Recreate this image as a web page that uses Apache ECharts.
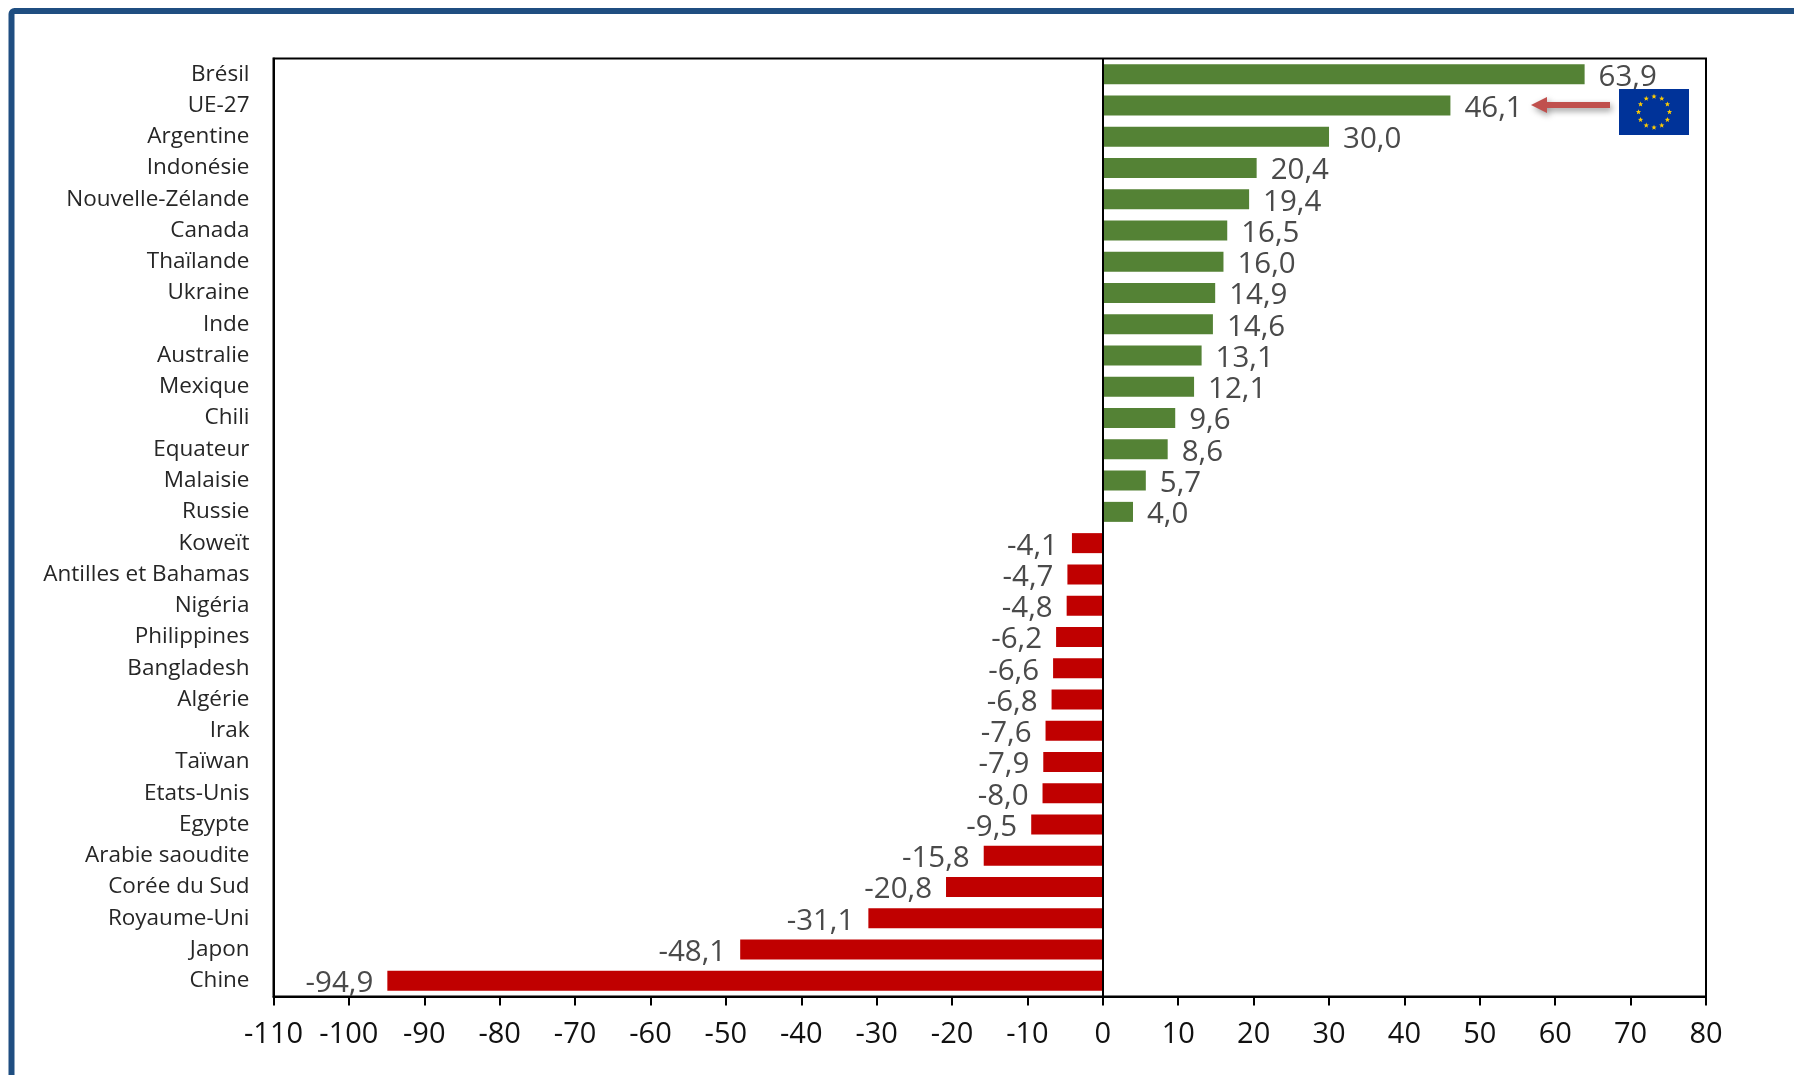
<!DOCTYPE html>
<html><head><meta charset="utf-8">
<style>html,body{margin:0;padding:0;background:#fff}#c{width:1794px;height:1075px}</style>
<script src="https://cdn.jsdelivr.net/npm/echarts@6/dist/echarts.min.js"></script>
</head><body><div id="c"></div>
<script>
const categories = ["Brésil","UE-27","Argentine","Indonésie","Nouvelle-Zélande","Canada","Thaïlande","Ukraine","Inde","Australie","Mexique","Chili","Equateur","Malaisie","Russie","Koweït","Antilles et Bahamas","Nigéria","Philippines","Bangladesh","Algérie","Irak","Taïwan","Etats-Unis","Egypte","Arabie saoudite","Corée du Sud","Royaume-Uni","Japon","Chine"];
const values = [63.9,46.1,30.0,20.4,19.4,16.5,16.0,14.9,14.6,13.1,12.1,9.6,8.6,5.7,4.0,-4.1,-4.7,-4.8,-6.2,-6.6,-6.8,-7.6,-7.9,-8.0,-9.5,-15.8,-20.8,-31.1,-48.1,-94.9];
const GREEN="#548235", RED="#C00000", FONT="'Open Sans','Noto Sans',sans-serif";
const chart = echarts.init(document.getElementById('c'),null,{renderer:'canvas'});
const flag={x:1619,y:89,w:70,h:46};
const starPts=(cx,cy,r)=>{const p=[];for(let i=0;i<10;i++){const a=-Math.PI/2+i*Math.PI/5,q=i%2?r*0.42:r;p.push([cx+q*Math.cos(a),cy+q*Math.sin(a)]);}return p;};
const stars=[];for(let i=0;i<12;i++){const a=i*Math.PI/6,cx=flag.x+flag.w/2+15.5*Math.cos(a),cy=flag.y+flag.h/2+15.5*Math.sin(a);
  stars.push({type:'polygon',shape:{points:starPts(cx,cy,2.8)},style:{fill:'#FFCC00'},z:102});}
chart.setOption({
  animation:false,
  backgroundColor:'#fff',
  grid:{left:273.5,top:58.5,width:1432.5,height:938,show:true,borderColor:'#000',borderWidth:2,backgroundColor:'transparent',containLabel:false},
  xAxis:{type:'value',min:-110,max:80,interval:10,splitLine:{show:false},
    axisLine:{show:true,onZero:false,lineStyle:{color:'#000',width:2}},
    axisTick:{show:true,length:9,lineStyle:{color:'#000',width:2}},
    axisLabel:{color:'#111',fontFamily:FONT,fontSize:29,margin:24,showMinLabel:true,showMaxLabel:true,hideOverlap:false}},
  yAxis:{type:'category',inverse:true,data:categories,
    axisLine:{show:true,onZero:false,lineStyle:{color:'#000',width:2}},axisTick:{show:false},
    axisLabel:{color:'#262626',fontFamily:FONT,fontSize:22.5,margin:24,interval:0,lineHeight:22,padding:[0,0,0,0]}},
  series:[{type:'bar',barWidth:'64%',
    data:values.map(v=>({value:v,itemStyle:{color:v>=0?GREEN:RED},
      label:{position:v>=0?'right':'left'}})),
    label:{show:true,distance:14,offset:[0,3],color:'#4a4a4a',fontFamily:FONT,fontSize:29.5,
      formatter:p=>p.value.toFixed(1).replace('.',',')},
    markLine:{silent:true,symbol:'none',label:{show:false},lineStyle:{color:'#000',width:2,type:'solid'},data:[{xAxis:0}],animation:false}
  }],
  graphic:[
    {type:'rect',shape:{x:11.5,y:11,width:3000,height:3000,r:3},style:{fill:'none',stroke:'#1F4E81',lineWidth:6},z:100},
    {type:'rect',shape:{x:flag.x,y:flag.y,width:flag.w,height:flag.h},style:{fill:'#003399'},z:101},
    ...stars,
    {type:'group',z:101,children:[
      {type:'polygon',shape:{points:[[1531,105],[1547,97],[1547,102],[1610,102],[1610,108],[1547,108],[1547,113]]},
       style:{fill:'#C0504D',shadowColor:'rgba(0,0,0,0.4)',shadowBlur:6,shadowOffsetX:2,shadowOffsetY:3},z:101}]}
  ]
});
</script></body></html>
